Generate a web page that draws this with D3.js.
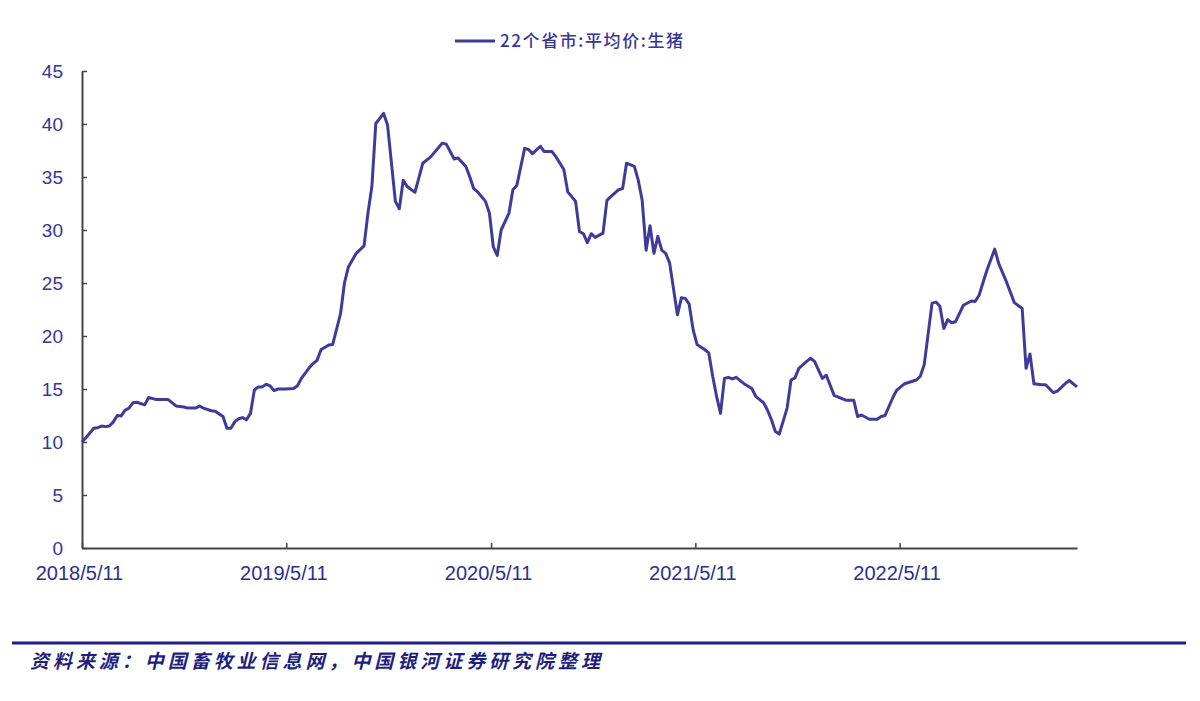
<!DOCTYPE html>
<html>
<head>
<meta charset="utf-8">
<script src="https://cdn.jsdelivr.net/npm/d3@7"></script>
<style>
  body { margin: 0; background: #fff; }
  svg { display: block; }
</style>
</head>
<body>
<div id="chart"></div>
<script>
// 22个省市:平均价:生猪 (weekly, 元/千克)
// week index counted from 2018/5/11
const weeks = [0,1,3,4,5,6,7,8,9,10,11,12,13,14,16,17,19,20,22,24,26,27,29,30,31,33,34,36,37,38,39,40,41,42,43,44,45,46,47,48,49,50,52,54,55,56,57,58,59,60,61,63,64,66,67,68,70,72,73,74,75,77,78,80,81,82,83,85,87,89,92,93,95,96,98,99,100,101,103,104,105,106,107,109,110,111,113,114,115,117,118,120,121,123,124,126,127,128,129,130,131,133,134,135,137,138,139,141,142,143,144,145,146,147,148,149,150,152,153,154,155,156,157,159,160,161,162,163,164,165,166,167,169,171,172,174,175,176,177,178,180,181,182,183,185,186,187,188,189,190,192,194,195,197,198,199,201,203,204,205,207,208,210,213,214,215,217,218,219,220,221,222,223,225,227,228,229,231,233,234,236,238,240,241,242,243,245,246,248,249,251,252,254];
const prices = [10.0,10.4,11.3,11.35,11.5,11.45,11.5,11.9,12.5,12.45,13.0,13.2,13.7,13.75,13.5,14.2,14.0,14.0,14.0,13.4,13.3,13.2,13.2,13.4,13.2,12.95,12.9,12.4,11.3,11.3,11.9,12.2,12.3,12.1,12.7,14.9,15.2,15.2,15.45,15.3,14.85,15.0,15.0,15.05,15.3,16.0,16.5,17.0,17.4,17.7,18.7,19.15,19.2,22.1,25.0,26.5,27.8,28.5,31.6,34.1,40.05,41.0,39.9,32.7,32.0,34.7,34.1,33.55,36.3,36.9,38.2,38.1,36.7,36.8,36.0,35.0,33.9,33.6,32.7,31.6,28.4,27.6,30.0,31.6,33.8,34.2,37.7,37.6,37.2,37.9,37.4,37.4,36.9,35.7,33.6,32.7,29.85,29.65,28.8,29.65,29.3,29.7,32.8,33.15,33.8,33.9,36.3,36.0,34.7,32.8,28.1,30.4,27.8,29.4,28.1,27.8,26.9,22.0,23.6,23.55,23.0,20.6,19.2,18.7,18.4,16.2,14.3,12.7,16.0,16.1,15.95,16.1,15.5,15.05,14.3,13.7,13.0,12.1,11.0,10.75,13.2,15.85,16.05,16.95,17.6,17.9,17.6,16.8,16.0,16.3,14.4,14.1,13.95,13.95,12.4,12.55,12.15,12.15,12.4,12.5,14.2,14.9,15.5,15.85,16.2,17.3,23.1,23.2,22.8,20.7,21.55,21.25,21.35,22.9,23.3,23.25,23.85,26.2,28.2,26.85,25.1,23.15,22.6,16.95,18.3,15.5,15.4,15.4,14.65,14.8,15.5,15.8,15.2];
const tickDates = ["2018-05-11","2019-05-11","2020-05-11","2021-05-11","2022-05-11"];
const yTicks = [0,5,10,15,20,25,30,35,40,45];
const seriesName = "22个省市:平均价:生猪";
const sourceText = "资料来源：中国畜牧业信息网，中国银河证券研究院整理";

const width = 1200, height = 701;
const margin = { top: 71, right: 123, bottom: 153, left: 82 };
const lineColor = "#3f3b9b";
const labelColor = "#35359a";

const parse = d3.timeParse("%Y-%m-%d");
const start = parse(tickDates[0]);
const data = weeks.map((w, i) => ({ date: d3.timeDay.offset(start, w * 7), value: prices[i] }));

const svg = d3.select("#chart")
    .append("svg")
    .attr("width", width)
    .attr("height", height);

const x = d3.scaleTime()
    .domain([start, data[data.length - 1].date])
    .range([margin.left, width - margin.right]);

const y = d3.scaleLinear()
    .domain([0, 45])
    .range([height - margin.bottom, margin.top]);

// y axis
const yAxis = svg.append("g")
    .attr("transform", "translate(" + margin.left + ",0)")
    .call(d3.axisLeft(y).tickValues(yTicks).tickSizeInner(-5).tickSizeOuter(0).tickPadding(19));
yAxis.select(".domain").attr("stroke", "#444").attr("stroke-width", 2);
yAxis.selectAll(".tick line").attr("stroke", "#444").attr("stroke-width", 1.5);
yAxis.selectAll("text")
    .attr("fill", labelColor)
    .style("font-family", "'Liberation Sans', Arial, sans-serif")
    .style("font-size", "19px");

// x axis
const xAxis = svg.append("g")
    .attr("transform", "translate(0," + (height - margin.bottom) + ")")
    .call(d3.axisBottom(x)
        .tickValues(tickDates.map(parse))
        .tickFormat(d3.timeFormat("%Y/%-m/%-d"))
        .tickSizeInner(-5).tickSizeOuter(0).tickPadding(18));
xAxis.select(".domain").attr("stroke", "#444").attr("stroke-width", 2);
xAxis.selectAll(".tick line").attr("stroke", "#444").attr("stroke-width", 1.5);
xAxis.selectAll("text")
    .attr("fill", "#2c2f8e")
    .attr("dx", "-3")
    .style("font-family", "'Liberation Sans', Arial, sans-serif")
    .style("font-size", "20px");

// the series
const line = d3.line()
    .x(d => x(d.date))
    .y(d => y(d.value));

svg.append("path")
    .datum(data)
    .attr("fill", "none")
    .attr("stroke", lineColor)
    .attr("stroke-width", 3)
    .attr("stroke-linejoin", "round")
    .attr("d", line);

// legend
const legend = svg.append("g").attr("transform", "translate(455,41)");
legend.append("line")
    .attr("x1", 0).attr("x2", 40)
    .attr("stroke", lineColor)
    .attr("stroke-width", 3);
legend.append("text")
    .attr("x", 45)
    .attr("y", 6)
    .attr("fill", labelColor)
    .attr("textLength", 183)
    .attr("lengthAdjust", "spacing")
    .style("font-family", "'Noto Sans CJK SC', sans-serif")
    .style("font-size", "17px")
    .style("font-weight", "500")
    .text(seriesName);

// source line at the bottom
svg.append("line")
    .attr("x1", 12).attr("x2", 1186)
    .attr("y1", 643).attr("y2", 643)
    .attr("stroke", "#1f1f8a")
    .attr("stroke-width", 3);

svg.append("text")
    .attr("x", 30)
    .attr("y", 668)
    .attr("fill", "#1f1f80")
    .attr("textLength", 570)
    .attr("lengthAdjust", "spacing")
    .style("font-family", "'Noto Sans CJK SC', sans-serif")
    .style("font-style", "italic")
    .style("font-weight", "bold")
    .style("font-size", "19px")
    .text(sourceText);
</script>
</body>
</html>
